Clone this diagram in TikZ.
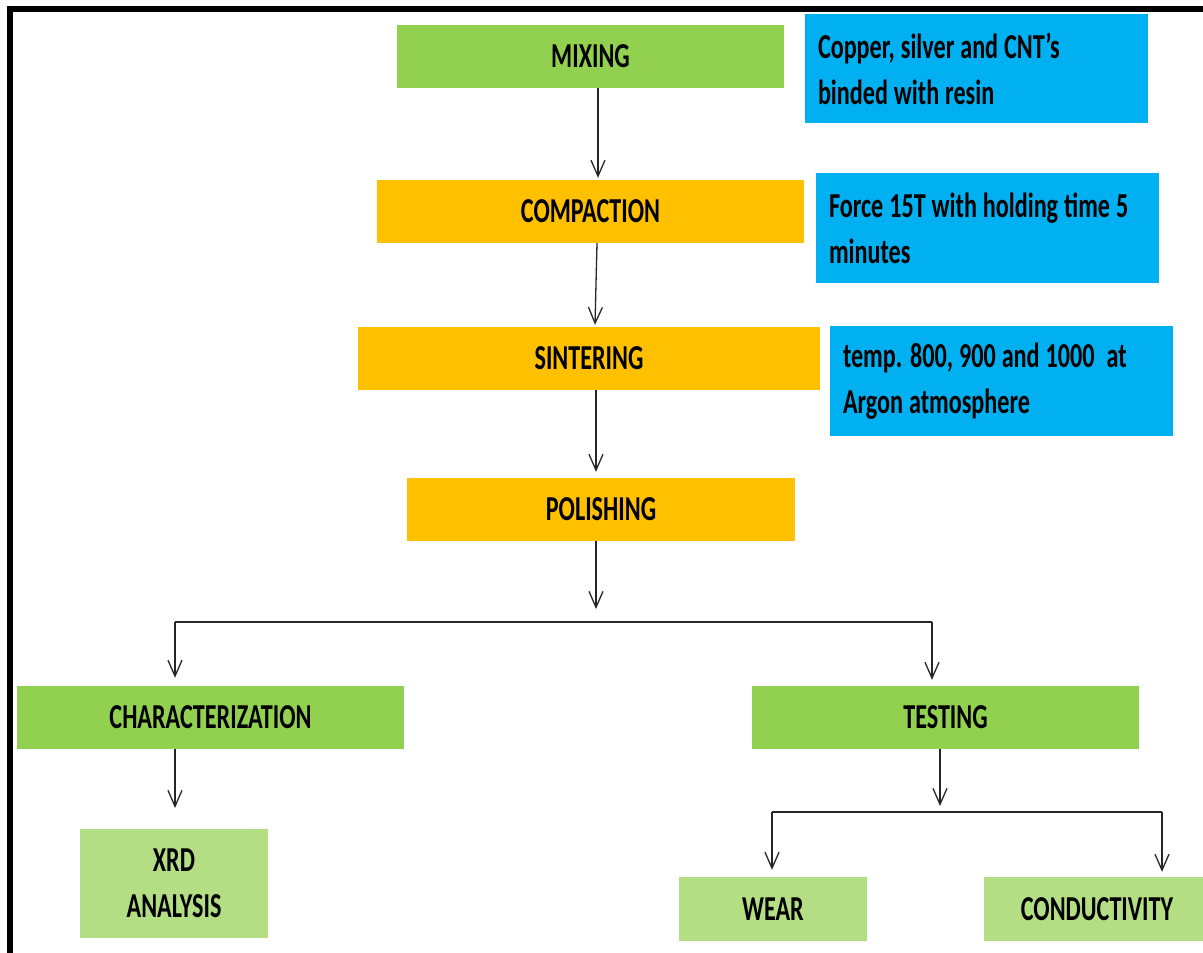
\documentclass[tikz,border=0pt]{standalone}
\usepackage{fontspec}
\setmainfont{Carlito}[FakeStretch=0.69]
\usetikzlibrary{arrows.meta}
\definecolor{cgreen}{HTML}{92D050}
\definecolor{lgreen}{HTML}{B3DE83}
\definecolor{corange}{HTML}{FFC000}
\definecolor{cblue}{HTML}{00B0F0}
\newcommand\myboxfont{\bfseries\fontsize{35}{46}\selectfont\spaceskip 6pt\relax}
\tikzset{
  box/.style={draw=none, inner sep=0pt, minimum height=63, font=\myboxfont, align=center},
  gbox/.style={box, fill=cgreen},
  obox/.style={box, fill=corange},
  lbox/.style={box, fill=lgreen},
  bbox/.style={box, fill=cblue, align=flush left, text width=317, inner xsep=13, inner ysep=0, minimum height=110},
  conn/.style={draw=black!85, line width=1.3, -{Straight Barb[length=16,width=14,line width=1.3]}},
  plain/.style={draw=black!85, line width=1.6},
  frame/.style={draw=black, line width=6}
}
\begin{document}
\begin{tikzpicture}[x=1pt,y=-1pt]
\useasboundingbox (0,0) rectangle (1203,953);
\clip (0,0) rectangle (1203,953);
\fill[white] (0,0) rectangle (1203,953);
\draw[frame] (9.5,9) rectangle (1260,1010);

\node[gbox, minimum width=387] (mix) at (590.5,56.5) {MIXING};
\node[obox, minimum width=427] (comp) at (590.5,211.5) {COMPACTION};
\node[obox, minimum width=462] (sint) at (589,358.5) {SINTERING};
\node[obox, minimum width=388] (pol) at (601,509.5) {POLISHING};
\node[gbox, minimum width=387] (char) at (210.5,717.5) {CHARACTERIZATION};
\node[gbox, minimum width=387] (test) at (945.5,717.5) {TESTING};
\node[lbox, minimum width=188, minimum height=109] (xrd) at (174,883.5) {XRD\\ANALYSIS};
\node[lbox, minimum width=188, minimum height=64] (wear) at (773,909) {WEAR};
\node[lbox, minimum width=226, minimum height=64] (cond) at (1097,909) {CONDUCTIVITY};

\node[bbox, minimum height=109] (n1) at (976.5,68.5) {Copper, silver and CNT’s\\binded with resin};
\node[bbox] (n2) at (987.5,228) {Force 15T with holding time 5\\minutes};
\node[bbox] (n3) at (1001.5,381) {temp. 800, 900 and 1000\ \ at\\Argon atmosphere};

\coordinate (pj) at (596,609);
\coordinate (jl) at (175,622);
\coordinate (jr) at (932,622);
\coordinate (cx) at (175,808);
\coordinate (tj) at (940,806);
\coordinate (kl) at (772,812);
\coordinate (kr) at (1162,812);

\draw[conn] ([xshift=7.5]mix.south) -- ([xshift=7.5,yshift=2]comp.north);
\draw[conn] ([xshift=6.5]comp.south) -- ([xshift=6,yshift=2]sint.north);
\draw[conn] ([xshift=7]sint.south) -- ([xshift=-5,yshift=6]pol.north);
\draw[conn] ([xshift=-5]pol.south) -- (pj);
\draw[plain] (jl) -- (jr);
\draw[conn] (jl) -- ([yshift=8]char.north -| jl);
\draw[conn] (jr) -- ([yshift=6]test.north -| jr);
\draw[conn] (char.south -| cx) -- (cx);
\draw[conn] (test.south -| tj) -- (tj);
\draw[plain] (kl) -- (kr);
\draw[conn] (kl) -- ([yshift=7]wear.north -| kl);
\draw[conn] (kr) -- ([yshift=5]cond.north -| kr);
\end{tikzpicture}
\end{document}
